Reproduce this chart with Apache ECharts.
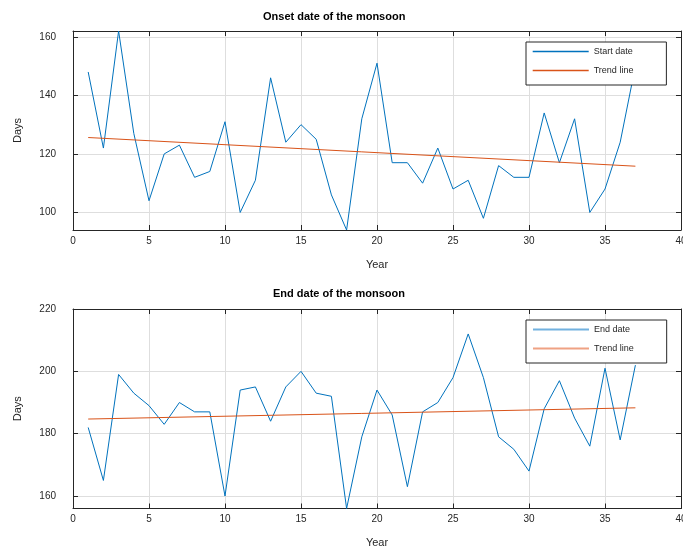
<!DOCTYPE html>
<html>
<head>
<meta charset="utf-8">
<script src="https://cdn.jsdelivr.net/npm/echarts@6/dist/echarts.min.js"></script>
<style>
  html, body { margin: 0; padding: 0; background: #fff; }
  #chart { width: 683px; height: 550px; }
</style>
</head>
<body>
<div id="chart"></div>
<script>
var years = [1, 2, 3, 4, 5, 6, 7, 8, 9, 10, 11, 12, 13, 14, 15, 16, 17, 18, 19, 20,
             21, 22, 23, 24, 25, 26, 27, 28, 29, 30, 31, 32, 33, 34, 35, 36, 37];
var onsetDays = [148, 122, 162, 127, 104, 120, 123, 112, 114, 131, 100, 111, 146, 124, 130, 125, 106, 94, 132, 151,
                 117, 117, 110, 122, 108, 111, 98, 116, 112, 112, 134, 117, 132, 100, 108, 124, 150];
var endDays = [182, 165, 199, 193, 189, 183, 190, 187, 187, 160, 194, 195, 184, 195, 200, 193, 192, 156, 179, 194,
               186, 163, 187, 190, 198, 212, 198, 179, 175, 168, 188, 197, 185, 176, 201, 178, 202];
// trend line end points (year, days)
var onsetTrend = [[1, 125.6], [37, 115.8]];
var endTrend = [[1, 184.7], [37, 188.3]];
var onsetTicks = [100, 120, 140, 160];
var endTicks = [160, 180, 200, 220];

var FONT = "'Liberation Sans', Arial, sans-serif";
var AXIS = '#262626';
var BLUE = '#0072BD';
var ORANGE = '#D95319';

function pairs(xs, ys) {
    return xs.map(function (x, i) { return [x, ys[i]]; });
}

function xAxes(gi) {
    var base = {
        type : 'value',
        gridIndex : gi,
        min : 0,
        max : 40,
        interval : 5,
        axisLine : { show : true, onZero : false, lineStyle : { color : AXIS, width : 1 } },
        axisTick : { show : true, inside : true, length : 5, lineStyle : { color : AXIS } }
    };
    var bottom = Object.assign({}, base, {
        position : 'bottom',
        name : 'Year',
        nameLocation : 'middle',
        nameGap : 29,
        nameTextStyle : { color : AXIS, fontSize : 11, fontFamily : FONT },
        axisLabel : { color : AXIS, fontSize : 10, fontFamily : FONT, margin : 6 },
        splitLine : { show : true, lineStyle : { color : '#dedede', width : 1 } }
    });
    var top = Object.assign({}, base, {
        position : 'top',
        axisLabel : { show : false },
        splitLine : { show : false }
    });
    return [bottom, top];
}

function yAxes(gi, lo, hi, ticks) {
    var base = {
        type : 'value',
        gridIndex : gi,
        min : lo,
        max : hi,
        axisLine : { show : true, onZero : false, lineStyle : { color : AXIS, width : 1 } },
        axisTick : { show : true, inside : true, length : 5, customValues : ticks, lineStyle : { color : AXIS } }
    };
    var left = Object.assign({}, base, {
        position : 'left',
        name : 'Days',
        nameLocation : 'middle',
        nameGap : 50,
        nameTextStyle : { color : AXIS, fontSize : 11, fontFamily : FONT },
        axisLabel : { color : AXIS, fontSize : 10, fontFamily : FONT, margin : 17,
                      customValues : ticks, padding : [0, 0, 4, 0] },
        splitLine : { show : true, lineStyle : { color : '#dedede', width : 1 } }
    });
    var right = Object.assign({}, base, {
        position : 'right',
        axisLabel : { show : false, customValues : ticks },
        splitLine : { show : false }
    });
    return [left, right];
}

function legendBox(top, names, styles) {
    return {
        orient : 'vertical',
        left : 526,
        top : top,
        itemWidth : 56,
        itemHeight : 10,
        itemGap : 10,
        padding : [5, 33, 10, 6],
        backgroundColor : '#fff',
        borderColor : AXIS,
        borderWidth : 1,
        borderRadius : 0,
        selectedMode : false,
        itemStyle : { opacity : 0 },
        textStyle : { color : AXIS, fontSize : 9, fontFamily : FONT },
        data : names.map(function (n, i) {
            return { name : n, lineStyle : styles[i] };
        })
    };
}

var chart = echarts.init(document.getElementById('chart'));
var option = {
    animation : false,
    backgroundColor : '#fff',
    title : [
        { text : 'Onset date of the monsoon', left : 258, top : 6,
          textStyle : { color : '#000', fontSize : 11, fontWeight : 'bold', fontFamily : FONT } },
        { text : 'End date of the monsoon', left : 268, top : 283,
          textStyle : { color : '#000', fontSize : 11, fontWeight : 'bold', fontFamily : FONT } }
    ],
    legend : [
        legendBox(42, ['Start date', 'Trend line'], [
            { color : BLUE, width : 1.4 },
            { color : ORANGE, width : 1.4 }
        ]),
        legendBox(320, ['End date', 'Trend line'], [
            { color : '#72b1df', width : 2 },
            { color : '#efa283', width : 2 }
        ])
    ],
    grid : [
        { left : 73, right : 2, top : 31, height : 199, outerBoundsMode : 'none' },
        { left : 73, right : 2, top : 309, height : 199.5, outerBoundsMode : 'none' }
    ],
    xAxis : xAxes(0).concat(xAxes(1)),
    yAxis : yAxes(0, 94, 162, onsetTicks).concat(yAxes(1, 156, 220, endTicks)),
    series : [
        { name : 'Start date', type : 'line', xAxisIndex : 0, yAxisIndex : 0,
          symbol : 'none', lineStyle : { color : BLUE, width : 1 }, itemStyle : { color : BLUE },
          data : pairs(years, onsetDays) },
        { name : 'Trend line', type : 'line', xAxisIndex : 0, yAxisIndex : 0,
          symbol : 'none', lineStyle : { color : ORANGE, width : 1 }, itemStyle : { color : ORANGE },
          data : onsetTrend },
        { name : 'End date', type : 'line', xAxisIndex : 2, yAxisIndex : 2,
          symbol : 'none', lineStyle : { color : BLUE, width : 1 }, itemStyle : { color : BLUE },
          data : pairs(years, endDays) },
        { name : 'Trend line', type : 'line', xAxisIndex : 2, yAxisIndex : 2,
          symbol : 'none', lineStyle : { color : ORANGE, width : 1 }, itemStyle : { color : ORANGE },
          data : endTrend }
    ]
};
chart.setOption(option);
</script>
</body>
</html>
